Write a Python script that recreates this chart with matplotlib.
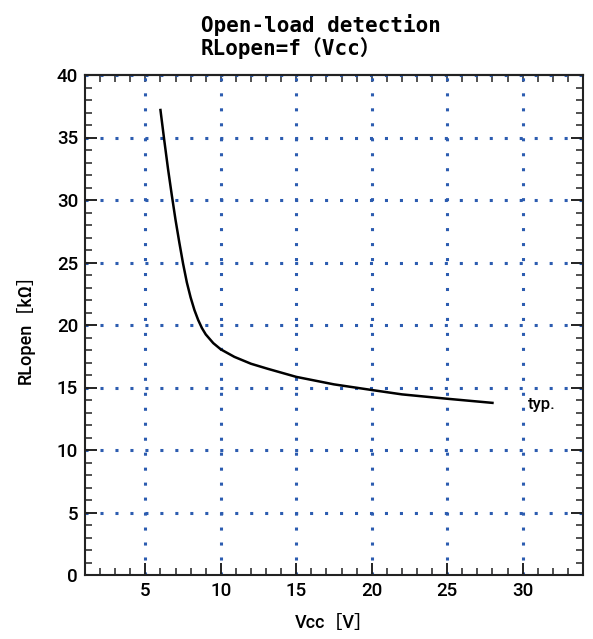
import matplotlib.pyplot as plt
from matplotlib.ticker import MultipleLocator

# curve (typ.)
vcc = [6.0, 6.25, 6.5, 6.75, 7.0, 7.25, 7.5, 7.75, 8.0, 8.25, 8.5, 8.75, 9.0, 9.5, 10.0,
       10.9, 12.0, 13.1, 15.0, 17.5, 20.0, 22.0, 25.0, 28.0]
rl_open = [37.2, 34.8, 32.5, 30.4, 28.4, 26.6, 24.9, 23.4, 22.2, 21.2, 20.4, 19.75, 19.25, 18.55, 18.05,
           17.45, 16.9, 16.5, 15.85, 15.25, 14.8, 14.45, 14.1, 13.77]

x_range = (1, 34)
y_range = (0, 40)
title_lines = ['Open-load detection', 'RLopen=f\uff08Vcc\uff09']
x_label = 'Vcc\uff3bV\uff3d'
y_label = 'RLopen\uff3bk\u03a9\uff3d'
curve_note = 'typ.'

plt.rcParams['font.family'] = ['Roboto', 'Noto Sans CJK JP', 'DejaVu Sans']

W, H = 593, 639
fig = plt.figure(figsize=(W / 100, H / 100), dpi=100)
ax = fig.add_axes([85 / W, 1 - 575 / H, 498 / W, 500 / H])

ax.set_xlim(*x_range)
ax.set_ylim(*y_range)

ax.xaxis.set_major_locator(MultipleLocator(5))
ax.xaxis.set_minor_locator(MultipleLocator(1))
ax.yaxis.set_major_locator(MultipleLocator(5))
ax.yaxis.set_minor_locator(MultipleLocator(1))

ax.grid(which='major', color='#2c5cb0', linestyle=(0, (1.0, 3.9)), linewidth=2.2,
        dash_capstyle='butt')

ax.plot(vcc, rl_open, color='black', linewidth=1.8, zorder=3)
ax.text(30.33, 13.24, curve_note, fontsize=12, weight='medium', va='baseline', ha='left')

for s in ax.spines.values():
    s.set_color('#222222')
    s.set_linewidth(1.5)

ax.tick_params(which='both', direction='in', top=False, right=True, colors='#222222',
               labelsize=13.5, labelcolor='black')
ax.tick_params(which='major', length=8.6, width=1.4)
ax.tick_params(which='minor', length=5, width=1.1)
ax.tick_params(axis='x', pad=5)
ax.tick_params(axis='y', pad=5)
for lab in ax.get_xticklabels() + ax.get_yticklabels():
    lab.set_fontweight('medium')

# top edge: only short ticks
sec = ax.secondary_xaxis('top')
sec.xaxis.set_major_locator(MultipleLocator(1))
sec.tick_params(direction='in', length=5, width=1.1, colors='#222222', labeltop=False)
sec.spines['top'].set_color('#222222')
sec.spines['top'].set_linewidth(1.5)

ax.set_xlabel(x_label, fontsize=13, weight='medium', labelpad=10)
ax.set_ylabel(y_label, fontsize=13, weight='medium', labelpad=16)

for i, line in enumerate(title_lines):
    fig.text(201 / W, 1 - (32 + 23 * i) / H, line, fontsize=15, weight='bold',
             va='baseline', ha='left', family=['DejaVu Sans Mono', 'Noto Sans CJK JP'])

fig.savefig('out.png', dpi=100)
